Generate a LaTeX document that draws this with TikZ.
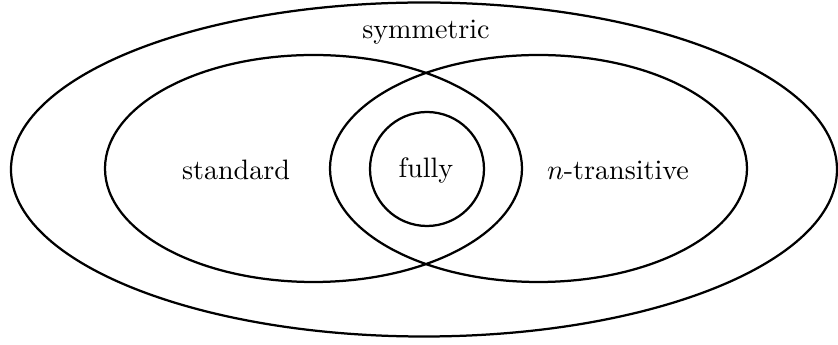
\documentclass[tikz,border=0pt]{standalone}
\usetikzlibrary{positioning}

\begin{document}
\begin{tikzpicture}[x=0.356pt, y=-0.356pt]
    \tikzset{setline/.style={black, thick}}
    \useasboundingbox (0,0) rectangle (838,345);

    \draw[setline] (424,169.5) ellipse (413 and 167);
    \draw[setline] (313.5,168.5) ellipse (208.5 and 113.5);
    \draw[setline] (538.5,168.5) ellipse (208.5 and 113.5);
    \draw[setline] (427,169) circle (57);

    \node (symm) at (426,32) {symmetric};
    \node (stand) at (236,170) {standard};
    \node (fully) at (426,170) {fully};
    \node (trans) at (618,170) {$n$-transitive};
\end{tikzpicture}
\end{document}
